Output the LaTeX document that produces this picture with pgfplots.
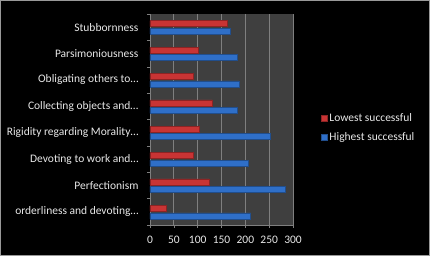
\documentclass[border=0pt]{standalone}
\usepackage{pgfplots}
\pgfplotsset{compat=1.18}
\usepackage{fontspec}
\setmainfont{Carlito}
\definecolor{plotbg}{HTML}{3F3F3F}
\definecolor{gridc}{HTML}{7F7F7F}
\definecolor{txt}{HTML}{E8E8E8}
\definecolor{redA}{HTML}{C83434}
\definecolor{redB}{HTML}{F49A9A}
\definecolor{bluA}{HTML}{2F6FC8}
\definecolor{bluB}{HTML}{8CC0F4}
\begin{document}
\begin{tikzpicture}
\useasboundingbox (-150pt,-32pt) rectangle (283pt,225pt);
\fill[white] (-150pt,-32pt) rectangle (283pt,225pt);
\fill[black] (-150pt,-31pt) rectangle (280pt,225pt);
\draw[gray!80,line width=1pt] (-149.5pt,-30.5pt) rectangle (279.5pt,224.5pt);
\begin{axis}[
  scale only axis, width=143pt, height=211pt,
  xbar, bar width=6pt,
  xmin=0, xmax=300, xtick={0,50,...,300},
  ymin=-0.5, ymax=7.5,
  ytick={0,...,7},
  yticklabels={orderliness and devoting…,Perfectionism,Devoting to work and…,Rigidity regarding Morality…,Collecting objects and…,Obligating others to…,Parsimoniousness,Stubbornness},
  minor ytick={-0.5,0.5,...,7.5},
  major tick length=0pt,
  minor tick length=3pt,
  tick align=outside,
  extra x ticks={0,50,...,300}, extra x tick labels={},
  extra x tick style={major tick length=3pt, grid=none},
  xmajorgrids, grid style={gridc, line width=0.8pt},
  axis background/.style={fill=plotbg},
  axis line style={gridc},
  every tick/.style={gridc},
  axis x line*=bottom, axis y line*=left,
  tick label style={txt, font=\fontsize{11.5}{13}\selectfont},
  /pgf/number format/assume math mode=true,
  xticklabel style={yshift=-8pt},
  yticklabel style={xshift=-8pt},
  legend style={at={(1.195,0.46)}, anchor=west, draw=none, fill=none,
    inner xsep=0pt,
    text=txt, font=\fontsize{11.5}{13}\selectfont, row sep=6pt,
    legend cell align=left},
  legend image code/.code={\fill[#1] (0pt,-3pt) rectangle (6pt,3pt);},
]
\addplot[draw=redA!70!black, top color=redA, middle color=redB, bottom color=redA, bar shift=3.5pt]
  coordinates {(35,0) (124,1) (91,2) (103,3) (131,4) (91,5) (101,6) (163,7)};
\addlegendentry{Lowest successful}
\addplot[draw=bluA!70!black, top color=bluA, middle color=bluB, bottom color=bluA, bar shift=-4pt]
  coordinates {(211,0) (283,1) (207,2) (252,3) (183,4) (187,5) (183,6) (168,7)};
\addlegendentry{Highest successful}
\end{axis}
\end{tikzpicture}
\end{document}
